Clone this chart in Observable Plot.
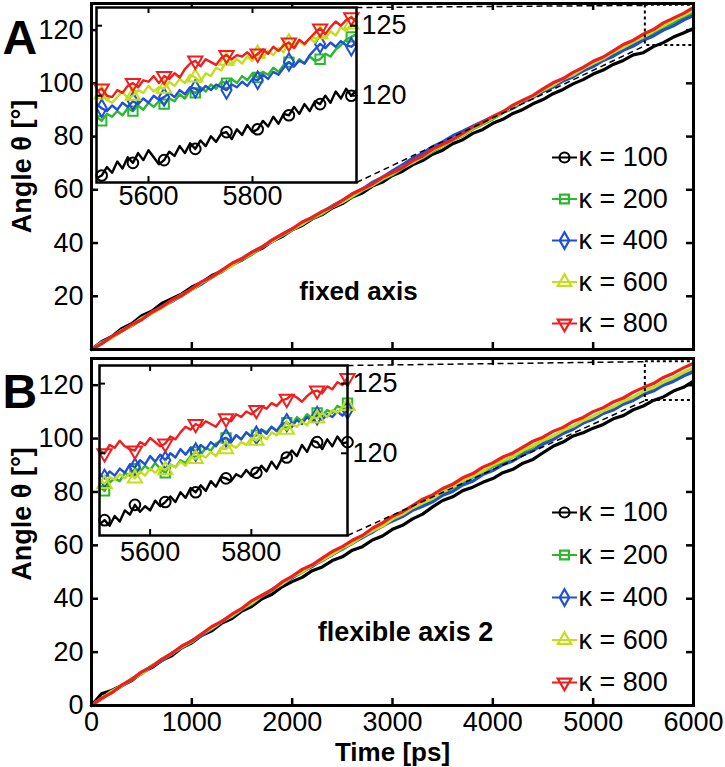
<!DOCTYPE html>
<html>
<head>
<meta charset="utf-8">
<script src="https://cdn.jsdelivr.net/npm/d3@7"></script>
<script src="https://cdn.jsdelivr.net/npm/@observablehq/plot@0.6"></script>
<style>
  html, body { margin: 0; padding: 0; background: #ffffff; }
  #fig { position: relative; width: 725px; height: 767px; overflow: hidden; background: #ffffff; }
  #fig svg { position: absolute; }
</style>
</head>
<body>
<div id="fig"></div>
<script>
// ---------------- DATA ----------------
const KAPPA = [100, 200, 400, 600, 800];

const MAIN_TIME = [0,100,200,300,400,500,600,700,800,900,1000,1100,1200,1300,1400,1500,1600,1700,1800,1900,2000,2100,2200,2300,2400,2500,2600,2700,2800,2900,3000,3100,3200,3300,3400,3500,3600,3700,3800,3900,4000,4100,4200,4300,4400,4500,4600,4700,4800,4900,5000,5100,5200,5300,5400,5500,5600,5700,5800,5900,6000];

// Panel A (fixed axis), angle in degrees
const A_K100 = [0,2.9,4.8,7.8,9.7,12.7,14.4,17.3,19.1,20.9,23.5,25.2,27.8,29.4,32.0,33.6,36.3,38.0,40.7,42.4,45.0,46.6,49.1,50.7,53.2,54.8,57.3,58.8,61.4,62.9,65.4,67.0,69.4,71.0,73.4,74.9,77.3,78.8,81.2,82.7,85.0,86.5,88.7,90.2,92.3,93.9,96.1,97.7,99.8,101.4,103.5,105.0,107.1,108.6,110.7,111.5,113.8,115.3,117.4,118.9,120.6];
const A_K200 = [0,2.6,4.5,7.0,8.9,11.4,13.9,15.8,18.2,20.1,22.6,24.8,27.3,29.2,31.7,33.8,35.8,38.4,40.8,42.8,44.9,47.3,49.2,51.0,53.5,55.5,57.4,59.8,61.7,63.9,65.7,68.1,70.4,72.1,74.4,76.4,78.7,80.4,82.8,84.7,86.6,89.0,90.6,93.0,94.6,97.0,98.6,101.0,102.6,104.9,106.6,108.9,110.5,112.8,114.5,116.8,118.4,120.8,122.4,124.7,126.5];
const A_K400 = [0,2.7,4.6,7.1,9.0,11.8,13.7,16.2,18.0,20.6,22.6,24.7,27.2,29.7,31.6,34.1,36.5,38.5,40.5,43.2,45.3,47.2,49.7,51.6,54.0,55.9,58.4,60.3,62.8,64.7,67.1,69.4,71.8,73.7,76.2,78.0,80.3,82.0,83.9,85.7,87.4,89.3,90.9,93.2,94.8,97.0,98.6,100.9,102.5,104.7,106.3,108.6,110.2,112.4,114.0,116.2,117.8,120.0,121.6,123.8,125.5];
const A_K600 = [0,2.4,4.3,7.1,9.0,11.7,13.6,15.7,18.3,20.5,22.5,25.2,27.1,29.6,31.5,34.3,36.2,38.7,40.6,43.1,45.2,47.1,49.6,51.4,53.7,55.4,57.8,60.1,61.8,64.2,66.1,68.5,70.2,72.5,74.9,76.6,78.9,80.7,83.2,85.1,87.0,89.4,91.2,93.6,95.1,97.5,99.3,101.7,103.2,105.6,107.5,109.3,111.7,113.5,115.7,117.4,119.7,121.6,123.9,125.6,127.5];
const A_K800 = [0,2.1,4.8,6.9,9.4,11.2,14.0,16.0,18.6,20.4,22.9,25.5,27.3,29.8,32.4,34.2,36.6,38.5,41.2,43.3,45.3,47.9,49.6,51.9,53.6,56.0,58.5,60.3,62.2,64.7,66.5,68.4,70.9,72.7,75.3,77.1,78.9,81.2,83.6,85.3,87.6,89.3,91.8,93.7,95.5,97.9,100.2,101.8,104.1,106.0,108.3,109.9,112.2,114.6,116.2,118.5,120.2,122.7,124.5,126.3,128.5];

// Panel B (flexible axis 2)
const B_K100 = [0,4.4,5.6,7.4,9.3,12.4,14.2,16.9,18.6,21.6,23.5,26.3,28.0,30.9,32.6,35.4,37.2,40.0,41.7,44.5,46.4,48.0,50.5,51.9,54.3,55.7,58.2,59.5,62.0,63.5,66.0,67.5,69.9,71.7,74.4,76.8,78.2,80.5,81.8,83.6,85.0,87.2,88.5,90.8,92.2,94.7,97.1,98.7,101.0,102.2,103.9,105.3,107.4,108.6,110.8,112.2,114.3,115.6,117.8,119.2,121.5];
const B_K200 = [0,2.8,4.9,7.5,9.5,12.2,14.9,16.8,19.5,21.7,23.8,26.6,28.8,31.5,33.5,36.1,38.2,41.0,43.1,45.9,48.0,49.9,52.5,54.2,56.7,58.5,61.0,62.8,65.3,67.1,69.6,71.3,73.6,75.3,77.6,79.3,81.6,83.3,85.6,87.3,89.6,91.1,93.3,94.8,97.0,98.5,100.7,102.2,104.4,105.9,108.1,109.6,111.7,113.2,115.4,116.9,119.0,120.5,122.6,124.0,126.0];
const B_K400 = [0,2.5,5.2,7.2,9.9,11.9,14.6,16.8,19.6,21.7,24.3,26.2,28.9,31.6,33.6,36.2,38.9,40.9,43.5,45.6,47.8,50.3,52.1,54.6,56.4,58.9,60.7,63.2,64.9,67.4,69.1,70.8,73.1,74.6,76.3,78.8,80.2,82.6,84.0,86.5,88.0,90.2,91.6,93.9,95.5,97.9,99.6,101.9,103.5,105.8,107.2,109.4,110.7,112.9,114.3,116.5,117.8,120.0,121.4,123.4,125.0];
const B_K600 = [0,2.6,5.3,7.3,10.0,12.0,14.7,17.4,19.4,22.0,24.1,26.9,29.0,31.6,33.6,36.3,38.5,41.3,43.4,45.6,48.3,50.1,52.6,54.6,56.6,59.1,60.9,63.4,65.4,67.3,69.9,71.7,74.1,75.9,77.6,80.1,81.8,84.3,86.0,87.8,90.2,91.8,93.4,95.7,97.3,99.4,100.9,103.1,104.6,106.8,108.3,110.4,111.9,114.0,115.5,117.7,119.1,121.2,122.8,124.8,126.5];
const B_K800 = [0,2.7,4.7,7.6,9.8,12.6,14.5,17.3,19.5,22.3,24.2,26.9,29.6,31.5,34.2,36.4,39.3,41.3,43.4,46.3,48.4,51.0,52.7,55.2,57.7,59.5,61.9,63.7,66.4,68.4,70.9,72.6,74.9,77.3,78.9,81.3,82.9,85.3,86.9,89.3,90.9,93.1,94.6,96.8,99.0,100.5,102.7,104.2,106.4,107.9,110.1,111.6,113.7,115.2,117.4,119.1,120.6,122.9,124.5,126.5,128.2];

// Insets (zoom on the last 500 ps)
const INSET_TIME = [5500,5510,5520,5530,5540,5550,5560,5570,5580,5590,5600,5610,5620,5630,5640,5650,5660,5670,5680,5690,5700,5710,5720,5730,5740,5750,5760,5770,5780,5790,5800,5810,5820,5830,5840,5850,5860,5870,5880,5890,5900,5910,5920,5930,5940,5950,5960,5970,5980,5990,6000];

const IA_K100 = [114.1,114.3,114.9,114.5,115.3,114.8,115.6,115.2,115.9,115.4,116.1,115.6,115.1,115.4,116.0,115.7,116.4,115.9,116.6,116.2,116.8,116.4,117.1,116.7,117.3,117.4,116.9,117.6,117.2,117.9,117.4,117.6,118.2,117.8,118.5,118.0,118.7,118.6,119.2,118.7,119.4,118.9,119.6,119.4,120.0,119.5,120.3,119.8,120.5,120.0,120.4];
const IA_K200 = [118.5,118.2,118.7,118.5,118.9,118.6,119.1,118.9,119.3,119.0,119.5,119.2,119.6,119.4,119.8,119.6,120.1,119.8,120.4,120.2,120.6,120.3,120.8,120.5,121.0,120.9,121.2,120.9,121.4,121.1,121.6,121.3,121.7,121.5,122.0,121.7,122.2,122.4,122.1,122.6,122.3,122.8,122.5,122.6,123.0,122.8,123.3,123.6,124.0,124.2,124.4];
const IA_K400 = [119.4,119.1,118.9,119.3,119.0,119.5,119.2,119.6,119.4,119.8,119.5,120.0,119.7,119.9,120.2,119.9,120.4,120.1,120.6,120.5,120.3,120.7,120.4,120.8,120.6,120.4,120.8,120.6,121.0,120.7,121.2,121.1,121.5,121.2,121.7,121.5,122.0,122.4,122.1,122.5,122.3,122.9,123.3,123.7,123.4,123.8,123.5,123.9,123.6,123.5,123.8];
const IA_K600 = [119.9,120.1,119.7,119.5,119.9,120.3,119.8,120.0,120.4,120.2,120.7,120.3,120.6,120.5,121.0,120.7,121.2,120.9,121.5,121.3,121.0,121.6,121.4,122.0,121.8,122.5,122.2,122.6,122.3,122.8,122.5,123.0,122.7,123.2,122.9,123.4,123.1,123.8,123.4,123.9,123.6,124.1,123.8,124.4,124.1,124.6,124.3,124.9,124.6,125.1,124.9];
const IA_K800 = [120.3,120.5,120.0,119.9,120.4,120.2,120.7,120.9,120.6,121.1,121.0,121.4,120.9,121.4,121.2,121.6,121.3,121.9,122.3,122.5,122.1,122.6,122.4,122.2,122.7,122.9,122.6,122.9,122.8,123.1,122.7,123.0,123.3,123.0,123.5,123.2,123.6,123.8,123.4,124.0,123.7,124.1,124.5,124.8,124.4,124.9,125.3,125.0,125.4,125.6,125.3];

const IB_K100 = [114.9,115.2,114.8,115.5,115.1,115.9,115.6,116.3,115.8,116.2,115.9,116.6,116.2,116.5,116.9,116.5,117.2,116.8,117.5,117.2,117.7,117.3,118.0,117.6,118.3,118.2,118.0,118.5,118.3,118.8,118.4,118.6,119.1,118.7,119.4,118.9,119.6,119.7,120.2,119.8,120.6,120.1,120.9,120.8,120.3,121.0,120.5,121.2,120.7,120.8,121.1];
const IB_K200 = [117.6,117.3,117.9,118.2,118.0,118.6,118.4,118.9,118.7,119.1,118.8,119.3,118.9,118.6,119.2,119.0,119.5,119.3,119.8,120.1,119.9,120.4,120.2,120.7,120.9,121.1,120.8,121.3,121.0,121.5,121.2,121.3,121.7,121.5,121.9,121.6,122.0,122.2,122.0,122.6,122.3,122.8,122.5,122.9,122.7,123.1,122.9,123.4,123.2,123.6,123.4];
const IB_K400 = [118.5,118.2,118.7,118.4,118.9,118.6,119.2,119.0,119.5,119.2,119.8,119.4,119.9,119.5,120.0,119.7,120.3,119.9,120.4,120.1,120.6,120.3,120.8,120.5,121.0,121.1,120.8,121.3,121.0,121.5,121.2,121.3,121.7,121.4,121.9,121.6,122.1,122.2,121.9,122.4,122.1,122.6,122.3,122.7,122.4,122.8,122.6,123.0,122.7,123.1,123.3];
const IB_K600 = [118.1,117.8,118.3,118.1,118.5,118.2,118.6,118.2,118.7,118.4,118.9,118.6,119.0,118.8,119.2,119.0,119.4,119.1,119.7,119.6,119.9,119.7,120.1,119.8,120.4,120.3,120.6,120.4,120.8,120.6,121.1,120.9,121.3,121.0,121.5,121.3,121.8,121.7,122.1,121.9,122.3,122.0,122.6,122.5,122.9,122.6,123.1,122.9,123.3,123.4,123.6];
const IB_K800 = [120.2,120.0,120.6,120.4,120.9,120.5,120.3,120.2,120.8,120.6,121.1,120.8,120.5,120.7,121.2,121.0,121.5,121.9,121.7,122.1,121.9,122.3,122.1,121.9,122.4,122.5,122.3,122.8,122.6,123.0,122.8,123.1,123.4,123.2,123.6,123.4,123.8,123.9,124.2,124.0,123.7,124.1,124.4,124.5,124.3,124.8,124.6,125.1,124.9,125.4,125.2];

// Axis ticks / labels
const X_DOMAIN = [0, 6000];
const Y_DOMAIN = [0, 130];
const X_TICK_MARKS = [1000, 2000, 3000, 4000, 5000];
const X_TICK_LABELS = [0, 1000, 2000, 3000, 4000, 5000, 6000];
const Y_TICK_MARKS = [20, 40, 60, 80, 100, 120];
const Y_LABELS_A = [20, 40, 60, 80, 100, 120];
const Y_LABELS_B = [0, 20, 40, 60, 80, 100, 120];
const INSET_X_DOMAIN_A = [5500, 6000];
const INSET_X_DOMAIN_B = [5500, 5990];
const INSET_Y_DOMAIN_A = [113.8, 126.3];
const INSET_Y_DOMAIN_B = [114.1, 126.3];
const INSET_X_TICKS = [5600, 5800];
const INSET_Y_TICKS = [120, 125];
// zoom rectangles drawn in the main panels (data coords)
const ZOOM_RECT_A = {x1: 5520, x2: 6000, y1: 114.2, y2: 129.3};
const ZOOM_RECT_B = {x1: 5520, x2: 6000, y1: 114.3, y2: 128.8};

// ---------------- STYLE / LAYOUT ----------------
const FONT = '"Liberation Sans", Arial, Helvetica, sans-serif';
const COLORS = ["#000000", "#2cb82c", "#1f4fd6", "#c4de1c", "#f01e1e"];
const TRI_DOWN = {
  draw(context, size) {
    const y = -Math.sqrt(size / (Math.sqrt(3) * 3));
    context.moveTo(0, -y * 2);
    context.lineTo(-Math.sqrt(3) * y, y);
    context.lineTo(Math.sqrt(3) * y, y);
    context.closePath();
  }
};
const SYMBOLS = [d3.symbolCircle, d3.symbolSquare, d3.symbolDiamond, d3.symbolTriangle, TRI_DOWN];
const legendSymbol = (base) => ({
  draw(context, size) {
    context.moveTo(-12.5, 0);
    context.lineTo(12.5, 0);
    base.draw(context, size);
  }
});

const L = {
  left: 91, right: 693, width: 725,
  A: {svgTop: 0, top: 3, bottom: 349, svgHeight: 352},
  B: {svgTop: 355, top: 358, bottom: 705, svgHeight: 412},
  insetA: {left: 96, right: 356, top: 7, bottom: 182},
  insetB: {left: 99, right: 347, top: 365, bottom: 535}
};

const rowsOf = (ts, vs) => ts.map((t, i) => ({t, v: vs[i], i}));

const fig = document.getElementById("fig");

function place(svg, left, top) {
  svg.style.left = left + "px";
  svg.style.top = top + "px";
  svg.style.maxWidth = "none";
  svg.style.height = svg.getAttribute("height") + "px";
  fig.appendChild(svg);
}

function mainPanel(cfg) {
  const P = cfg.layout;
  const plotW = L.right - L.left;
  const plotH = P.bottom - P.top;
  const sx = Plot.scale({x: {domain: X_DOMAIN, range: [L.left, L.right]}});
  const sy = Plot.scale({y: {domain: Y_DOMAIN, range: [P.bottom, P.top]}});
  const ins = cfg.inset, R = cfg.rect;
  const links = [
    {x1: sx.invert(ins.right), y1: sy.invert(ins.top), x2: R.x1, y2: R.y2},
    {x1: sx.invert(ins.right), y1: sy.invert(ins.bottom), x2: R.x1, y2: R.y1}
  ];
  const marks = [];
  cfg.series.forEach((s, k) => {
    marks.push(Plot.line(rowsOf(MAIN_TIME, s), {x: "t", y: "v", stroke: COLORS[k], strokeWidth: 3.2, strokeLinejoin: "round"}));
  });
  marks.push(Plot.rect([R], {x1: "x1", x2: "x2", y1: "y1", y2: "y2", fill: "none", stroke: "black", strokeWidth: 2, strokeDasharray: "3,3"}));
  marks.push(Plot.link(links, {x1: "x1", y1: "y1", x2: "x2", y2: "y2", stroke: "black", strokeWidth: 1.5, strokeDasharray: "6,4"}));
  // inward ticks on all four sides
  marks.push(Plot.ruleX(X_TICK_MARKS, {insetTop: plotH - 7, stroke: "black", strokeWidth: 2.5}));
  marks.push(Plot.ruleX(X_TICK_MARKS, {insetBottom: plotH - 7, stroke: "black", strokeWidth: 2.5}));
  marks.push(Plot.ruleY(Y_TICK_MARKS, {insetRight: plotW - 7, stroke: "black", strokeWidth: 2.5}));
  marks.push(Plot.ruleY(Y_TICK_MARKS, {insetLeft: plotW - 7, stroke: "black", strokeWidth: 2.5}));
  marks.push(Plot.axisY({ticks: cfg.yLabels, anchor: "left", tickSize: 0, tickPadding: 8, fontSize: 27, tickFormat: "d", label: null}));
  if (cfg.xLabels) {
    marks.push(Plot.axisX({ticks: X_TICK_LABELS, anchor: "bottom", tickSize: 0, tickPadding: 6, fontSize: 27, tickFormat: "d", label: null}));
    marks.push(Plot.text(["Time [ps]"], {frameAnchor: "bottom", dy: 47, textAnchor: "middle", lineAnchor: "middle", fontSize: 26, fontWeight: "bold"}));
  }
  // y label
  marks.push(Plot.text(["Angle θ [°]"], {frameAnchor: "left", dx: -69, dy: cfg.labelDy, rotate: -90, textAnchor: "middle", lineAnchor: "middle", fontSize: 27, fontWeight: "bold"}));
  // panel letter
  marks.push(Plot.text([cfg.letter], {frameAnchor: "top-left", dx: 2 - L.left, dy: cfg.letterBase, textAnchor: "start", lineAnchor: "bottom", fontSize: 48, fontWeight: "bold"}));
  // annotation
  marks.push(Plot.text([cfg.note], {frameAnchor: "top-left", dx: cfg.noteX - L.left, dy: cfg.noteY, textAnchor: "middle", lineAnchor: "middle", fontSize: cfg.noteSize, fontWeight: "bold"}));
  // legend
  KAPPA.forEach((k, i) => {
    const dy = cfg.legendY0 + i * cfg.legendStep;
    marks.push(Plot.dot([k], {frameAnchor: "top-left", dx: 564 - L.left, dy, symbol: legendSymbol(SYMBOLS[i]), r: 5, stroke: COLORS[i], strokeWidth: 2.2, fill: "none"}));
    marks.push(Plot.text([`κ = ${k}`], {frameAnchor: "top-left", dx: 578 - L.left, dy, textAnchor: "start", lineAnchor: "middle", fontSize: 27}));
  });
  marks.push(Plot.frame({stroke: "black", strokeWidth: 3}));

  const svg = Plot.plot({
    width: L.width, height: P.svgHeight,
    marginLeft: L.left, marginRight: L.width - L.right,
    marginTop: P.top - P.svgTop, marginBottom: P.svgHeight - (P.bottom - P.svgTop),
    x: {domain: X_DOMAIN, axis: null, label: null},
    y: {domain: Y_DOMAIN, axis: null, label: null},
    style: {fontFamily: FONT, fontSize: "27px", color: "black", background: "transparent", overflow: "visible"},
    marks
  });
  place(svg, 0, P.svgTop);
}

function insetPanel(cfg) {
  const B = cfg.box;
  const mL = 6, mT = 6, mR = 70, mB = 40;
  const w = B.right - B.left, h = B.bottom - B.top;
  const marks = [Plot.frame({fill: "white", stroke: "none"})];
  cfg.series.forEach((s, k) => {
    const rows = rowsOf(INSET_TIME, s);
    marks.push(Plot.line(rows, {x: "t", y: "v", stroke: COLORS[k], strokeWidth: 2.4, strokeLinejoin: "round", clip: true}));
    marks.push(Plot.dot(rows, {filter: d => d.i % 6 === 1, x: "t", y: "v", symbol: SYMBOLS[k], r: 5.3, stroke: COLORS[k], strokeWidth: 2, fill: "none"}));
  });
  marks.push(Plot.ruleX(INSET_X_TICKS, {insetTop: h - 6, stroke: "black", strokeWidth: 2}));
  marks.push(Plot.ruleX(INSET_X_TICKS, {insetBottom: h - 6, stroke: "black", strokeWidth: 2}));
  marks.push(Plot.ruleY(INSET_Y_TICKS, {insetRight: w - 6, stroke: "black", strokeWidth: 2}));
  marks.push(Plot.ruleY(INSET_Y_TICKS, {insetLeft: w - 6, stroke: "black", strokeWidth: 2}));
  marks.push(Plot.axisX({ticks: INSET_X_TICKS, anchor: "bottom", tickSize: 0, tickPadding: cfg.xPad, fontSize: 27, tickFormat: "d", label: null}));
  marks.push(Plot.axisY({ticks: INSET_Y_TICKS, anchor: "right", tickSize: 0, tickPadding: 5, fontSize: 27, tickFormat: "d", label: null}));
  marks.push(Plot.frame({stroke: "black", strokeWidth: 2.5}));
  const svg = Plot.plot({
    width: mL + w + mR, height: mT + h + mB,
    marginLeft: mL, marginRight: mR, marginTop: mT, marginBottom: mB,
    x: {domain: cfg.xDomain, axis: null, label: null},
    y: {domain: cfg.yDomain, axis: null, label: null},
    style: {fontFamily: FONT, fontSize: "27px", color: "black", background: "transparent", overflow: "visible"},
    marks
  });
  place(svg, B.left - mL, B.top - mT);
}

// Panel A
mainPanel({
  layout: L.A, series: [A_K100, A_K200, A_K400, A_K600, A_K800],
  yLabels: Y_LABELS_A, xLabels: false, letter: "A", letterBase: 50, labelDy: -10,
  note: "fixed axis", noteX: 358, noteY: 288, noteSize: 26,
  legendY0: 154, legendStep: 41.5, inset: L.insetA, rect: ZOOM_RECT_A
});
insetPanel({box: L.insetA, xDomain: INSET_X_DOMAIN_A, yDomain: INSET_Y_DOMAIN_A, xPad: 3,
  series: [IA_K100, IA_K200, IA_K400, IA_K600, IA_K800]});

// Panel B
mainPanel({
  layout: L.B, series: [B_K100, B_K200, B_K400, B_K600, B_K800],
  yLabels: Y_LABELS_B, xLabels: true, letter: "B", letterBase: 49, labelDy: -18,
  note: "flexible axis 2", noteX: 405, noteY: 274, noteSize: 27,
  legendY0: 154, legendStep: 42.5, inset: L.insetB, rect: ZOOM_RECT_B
});
insetPanel({box: L.insetB, xDomain: INSET_X_DOMAIN_B, yDomain: INSET_Y_DOMAIN_B, xPad: 6,
  series: [IB_K100, IB_K200, IB_K400, IB_K600, IB_K800]});
</script>
</body>
</html>
